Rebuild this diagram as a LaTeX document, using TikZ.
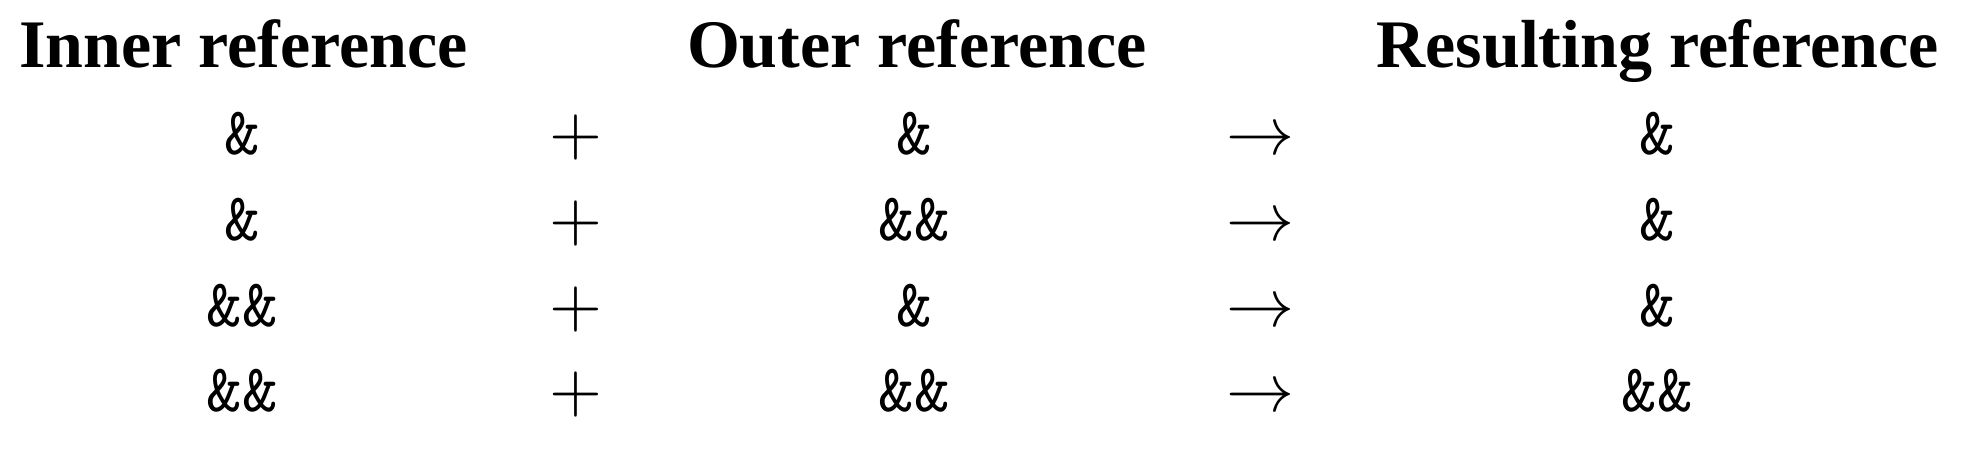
\documentclass[tikz,border=0pt]{standalone}
\usepackage{fontspec}
\usepackage{graphicx}
\newfontfamily\hdfont{Liberation Serif}
\newcommand{\bigop}[1]{\scalebox{3.4}{$#1$}}
\newcommand{\amp}[1]{\scalebox{3.4}{\ttfamily\fontsize{10}{12}\selectfont #1}}
\tikzset{
  hd/.style={anchor=base, inner sep=0pt, font=\hdfont\bfseries\fontsize{34}{40}\selectfont},
  cell/.style={anchor=base, inner sep=0pt},
  op/.style={anchor=base, inner sep=0pt},
}
\begin{document}
\begin{tikzpicture}[x=0.5pt,y=-0.5pt]
\useasboundingbox (0,0) rectangle (1974,476);
\node[hd] (h1) at (243.5,68) {Inner reference};
\node[hd] (h2) at (917,68) {Outer reference};
\node[hd] (h3) at (1657.5,68) {Resulting reference};
% row 1
\node[cell] (a1) at (242,155) {\amp{\&}};
\node[op]   (p1) at (576,155) {\bigop{+}};
\node[cell] (b1) at (914,155) {\amp{\&}};
\node[op]   (r1) at (1260,155) {\bigop{\rightarrow}};
\node[cell] (c1) at (1657,155) {\amp{\&}};
% row 2
\node[cell] (a2) at (242,240.5) {\amp{\&}};
\node[op]   (p2) at (576,240.5) {\bigop{+}};
\node[cell] (b2) at (914,240.5) {\amp{\&\&}};
\node[op]   (r2) at (1260,240.5) {\bigop{\rightarrow}};
\node[cell] (c2) at (1657,240.5) {\amp{\&}};
% row 3
\node[cell] (a3) at (242,326) {\amp{\&\&}};
\node[op]   (p3) at (576,326) {\bigop{+}};
\node[cell] (b3) at (914,326) {\amp{\&}};
\node[op]   (r3) at (1260,326) {\bigop{\rightarrow}};
\node[cell] (c3) at (1657,326) {\amp{\&}};
% row 4
\node[cell] (a4) at (242,411.5) {\amp{\&\&}};
\node[op]   (p4) at (576,411.5) {\bigop{+}};
\node[cell] (b4) at (914,411.5) {\amp{\&\&}};
\node[op]   (r4) at (1260,411.5) {\bigop{\rightarrow}};
\node[cell] (c4) at (1657,411.5) {\amp{\&\&}};
\end{tikzpicture}
\end{document}
